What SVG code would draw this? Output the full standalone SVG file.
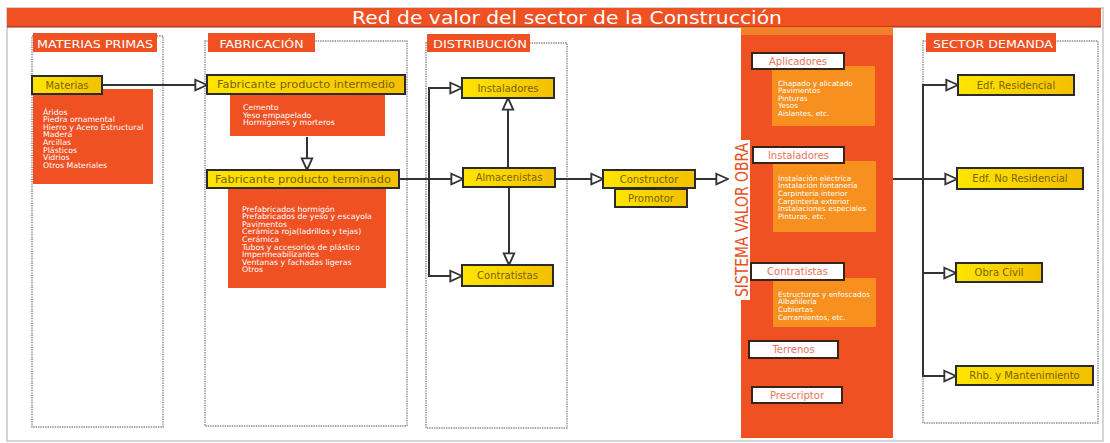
<svg xmlns="http://www.w3.org/2000/svg" width="1110" height="443" viewBox="0 0 1110 443">
<defs>
<linearGradient id="yg" x1="0" y1="0" x2="1" y2="0">
<stop offset="0" stop-color="#FFE500"/>
<stop offset="1" stop-color="#F3C000"/>
</linearGradient>
<marker id="ah" markerUnits="userSpaceOnUse" markerWidth="14" markerHeight="14" viewBox="-1 -1 12 12" refX="10" refY="5" orient="auto">
<path d="M0,0.5 L10,5 L0,9.5 z" fill="#fff" stroke="#333" stroke-width="1.6"/>
</marker>
<style>
text{font-family:"DejaVu Sans","Liberation Sans",sans-serif}
.ttl{font-size:18px;fill:#fff;text-anchor:middle}
.hdr rect{fill:#EF5123}
.hdr text{font-size:11px;fill:#fff;text-anchor:middle}
.dot{fill:none;stroke:#888;stroke-width:1.4;stroke-dasharray:1.4 1}
.yn rect{fill:url(#yg);stroke:#2b2b2b;stroke-width:2}
.yn text{font-size:10px;fill:#7A6200;text-anchor:middle}
.wn rect{fill:#fff;stroke:#3b2218;stroke-width:2}
.wn text{font-size:10px;fill:#E8735A;text-anchor:middle}
.ob{fill:#EF5123}
.lb{fill:#F7901E}
.list{font-size:7.8px;fill:#fff}
.list2{font-size:7.3px;fill:#fff}
.conn path{fill:none;stroke:#333;stroke-width:2;marker-end:url(#ah)}
</style>
</defs>
<rect x="0" y="0" width="1110" height="443" fill="#fff"/>
<rect x="7" y="8" width="1096" height="433" fill="none" stroke="#c8c8c8" stroke-width="1.5"/>
<g id="title">
<rect x="7" y="8" width="1094" height="19" fill="#EF5123"/>
<line x1="7" y1="27" x2="1101" y2="27" stroke="#8a2a10" stroke-width="1"/>
<text class="ttl" x="567" y="24" textLength="430" lengthAdjust="spacingAndGlyphs">Red de valor del sector de la Construcción</text>
</g>

<g id="col-materias">
<rect class="dot" x="32" y="36" width="131" height="391"/>
<g class="hdr"><rect x="33" y="33" width="124" height="19"/><text x="95" y="47.5" textLength="116" lengthAdjust="spacingAndGlyphs">MATERIAS PRIMAS</text></g>
</g>
<g id="col-fabricacion">
<rect class="dot" x="205" y="41" width="202" height="385"/>
<g class="hdr"><rect x="208" y="33" width="107" height="19"/><text x="261.5" y="47.5" textLength="84" lengthAdjust="spacingAndGlyphs">FABRICACIÓN</text></g>
</g>
<g id="col-distribucion">
<rect class="dot" x="426" y="43" width="141" height="385"/>
<g class="hdr"><rect x="427" y="34" width="103" height="18"/><text x="480" y="47.5" textLength="94" lengthAdjust="spacingAndGlyphs">DISTRIBUCIÓN</text></g>
</g>
<g id="col-demanda">
<rect class="dot" x="923" y="41" width="175" height="382"/>
<g class="hdr"><rect x="926" y="33" width="130" height="19"/><text x="993" y="47.5" textLength="120" lengthAdjust="spacingAndGlyphs">SECTOR DEMANDA</text></g>
</g>

<g id="sistema-valor-obra">
<rect class="ob" x="741" y="27" width="152" height="411"/>
<rect x="741" y="27" width="152" height="8" fill="#F0802A"/>
<rect x="741" y="140" width="9" height="160" fill="#fff"/>
<text x="748" y="220" transform="rotate(-90 748 220)" font-size="18" fill="#E8501E" text-anchor="middle" textLength="154" lengthAdjust="spacingAndGlyphs">SISTEMA VALOR OBRA</text>
</g>

<g class="conn" id="connectors">
<path d="M102,85 H207"/>
<path d="M307,137 V170"/>
<path d="M399,179 H463"/>
<path d="M429,179 V88 H462"/>
<path d="M429,179 V276 H462"/>
<path d="M508,168 V98"/>
<path d="M509,187 V265"/>
<path d="M555,179 H603"/>
<path d="M695,179 H728"/>
<path d="M893,179 H957"/>
<path d="M923,179 V85 H958"/>
<path d="M923,179 V273 H956"/>
<path d="M923,273 V376 H956"/>
</g>

<g id="materias">
<rect class="ob" x="33" y="89" width="120" height="95"/>
<text class="list" x="43"><tspan x="43" y="114.5">Áridos</tspan><tspan x="43" y="122.1">Piedra ornamental</tspan><tspan x="43" y="129.7">Hierro y Acero Estructural</tspan><tspan x="43" y="137.3">Madera</tspan><tspan x="43" y="144.9">Arcillas</tspan><tspan x="43" y="152.5">Plásticos</tspan><tspan x="43" y="160.1">Vidrios</tspan><tspan x="43" y="167.7">Otros Materiales</tspan></text>
<g class="yn"><rect x="32" y="76" width="70" height="18"/><text x="67" y="88.5">Materias</text></g>
</g>

<g id="fab-intermedio">
<rect class="ob" x="230" y="93" width="155" height="43"/>
<text class="list"><tspan x="243" y="110">Cemento</tspan><tspan x="243" y="117.6">Yeso  empapelado</tspan><tspan x="243" y="125.2">Hormigones y morteros</tspan></text>
<g class="yn"><rect x="207" y="75" width="198" height="19"/><text x="306" y="88" font-size="10.5px" textLength="178" lengthAdjust="spacingAndGlyphs">Fabricante producto intermedio</text></g>
</g>

<g id="fab-terminado">
<rect class="ob" x="228" y="188" width="158" height="100"/>
<text class="list"><tspan x="242" y="211.5">Prefabricados hormigón</tspan><tspan x="242" y="219.1">Prefabricados de yeso y escayola</tspan><tspan x="242" y="226.7">Pavimentos</tspan><tspan x="242" y="234.3">Cerámica roja(ladrillos y tejas)</tspan><tspan x="242" y="241.9">Cerámica</tspan><tspan x="242" y="249.5">Tubos y accesorios de plástico</tspan><tspan x="242" y="257.1">Impermeabilizantes</tspan><tspan x="242" y="264.7">Ventanas y fachadas ligeras</tspan><tspan x="242" y="272.3">Otros</tspan></text>
<g class="yn"><rect x="207" y="170" width="192" height="18"/><text x="303" y="182.5" font-size="10.5px" textLength="176" lengthAdjust="spacingAndGlyphs">Fabricante producto terminado</text></g>
</g>

<g id="dist-instaladores" class="yn"><rect x="462" y="78" width="92" height="20"/><text x="508" y="91.5">Instaladores</text></g>
<g id="almacenistas" class="yn"><rect x="463" y="168" width="92" height="19"/><text x="509" y="181">Almacenistas</text></g>
<g id="dist-contratistas" class="yn"><rect x="462" y="265" width="91" height="21"/><text x="507.5" y="279">Contratistas</text></g>
<g id="constructor" class="yn"><rect x="603" y="170" width="92" height="18"/><text x="649" y="182.5">Constructor</text></g>
<g id="promotor" class="yn"><rect x="615" y="189" width="72" height="18"/><text x="651" y="201.5">Promotor</text></g>

<g id="aplicadores">
<rect class="lb" x="772" y="66" width="103" height="60"/>
<text class="list2"><tspan x="778" y="85.5">Chapado y alicatado</tspan><tspan x="778" y="93.1">Pavimentos</tspan><tspan x="778" y="100.7">Pinturas</tspan><tspan x="778" y="108.3">Yesos</tspan><tspan x="778" y="115.9">Aislantes, etc.</tspan></text>
<g class="wn"><rect x="752" y="53" width="92" height="16"/><text x="798" y="64.5">Aplicadores</text></g>
</g>
<g id="sv-instaladores">
<rect class="lb" x="773" y="161" width="103" height="71"/>
<text class="list2"><tspan x="778" y="180.5">Instalación eléctrica</tspan><tspan x="778" y="188.2">Instalación fontanería</tspan><tspan x="778" y="195.9">Carpintería interior</tspan><tspan x="778" y="203.6">Carpintería exterior</tspan><tspan x="778" y="211.3">Instalaciones especiales</tspan><tspan x="778" y="219">Pinturas, etc.</tspan></text>
<g class="wn"><rect x="753" y="147" width="91" height="16"/><text x="798.5" y="158.5">Instaladores</text></g>
</g>
<g id="sv-contratistas">
<rect class="lb" x="773" y="278" width="103" height="49"/>
<text class="list2"><tspan x="778" y="296.5">Estructuras y enfoscados</tspan><tspan x="778" y="304.2">Albañilería</tspan><tspan x="778" y="311.9">Cubiertas</tspan><tspan x="778" y="319.6">Cerramientos, etc.</tspan></text>
<g class="wn"><rect x="751" y="263" width="93" height="17"/><text x="797.5" y="275">Contratistas</text></g>
</g>
<g id="terrenos" class="wn"><rect x="749" y="341" width="89" height="17"/><text x="793.5" y="353">Terrenos</text></g>
<g id="prescriptor" class="wn"><rect x="752" y="387" width="90" height="16"/><text x="797" y="399">Prescriptor</text></g>

<g id="edf-residencial" class="yn"><rect x="958" y="75" width="116" height="20"/><text x="1016" y="88.5">Edf. Residencial</text></g>
<g id="edf-no-residencial" class="yn"><rect x="957" y="168" width="126" height="21"/><text x="1020" y="182">Edf. No Residencial</text></g>
<g id="obra-civil" class="yn"><rect x="956" y="263" width="86" height="19"/><text x="999" y="276">Obra Civil</text></g>
<g id="rhb" class="yn"><rect x="956" y="366" width="137" height="19"/><text x="1024.5" y="379">Rhb. y Mantenimiento</text></g>
</svg>
